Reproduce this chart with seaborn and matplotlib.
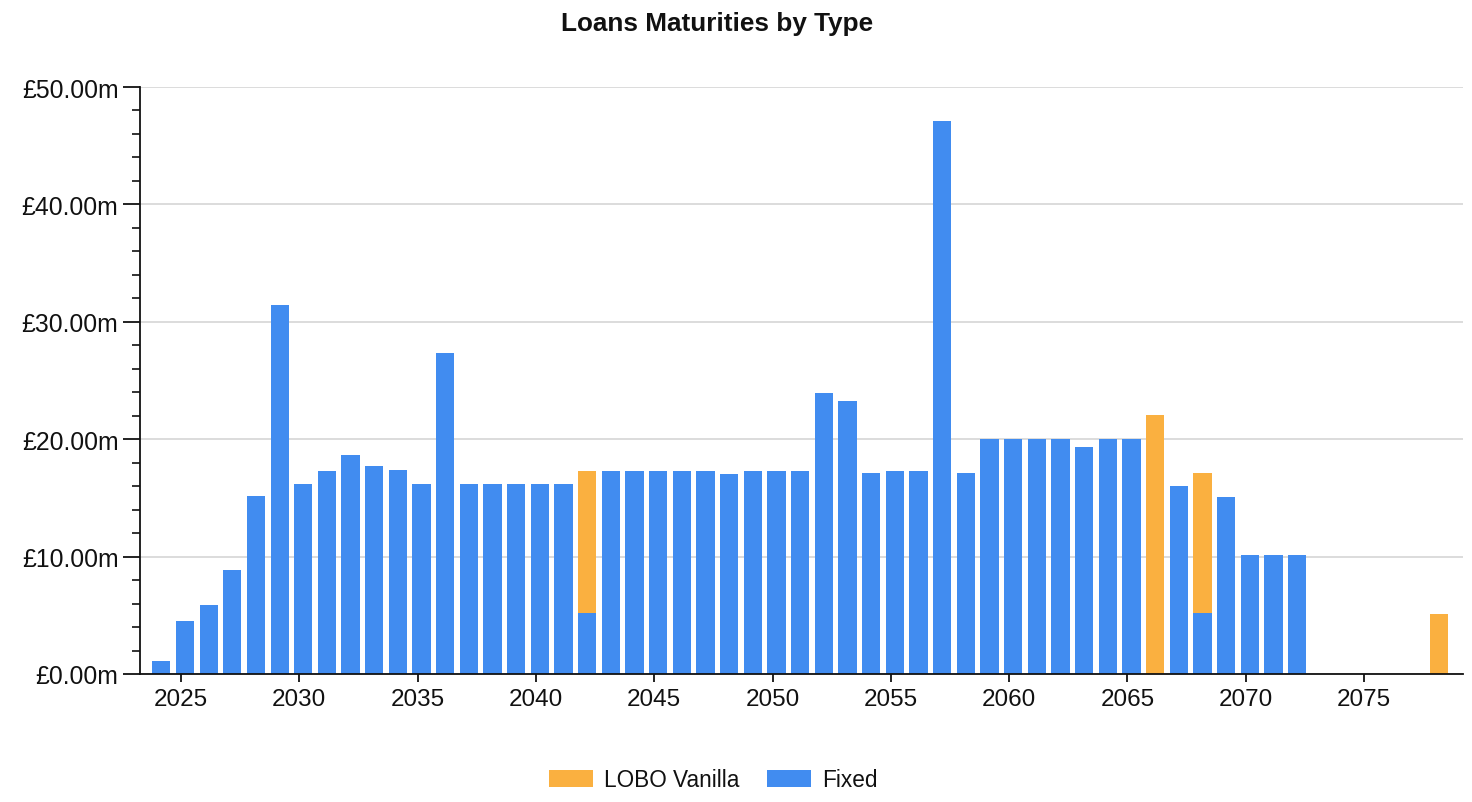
import numpy as np
import pandas as pd
import matplotlib
matplotlib.use("Agg")
import matplotlib.pyplot as plt
import seaborn as sns
from matplotlib.ticker import MultipleLocator, FuncFormatter
from matplotlib.patches import Patch

# ---- data (values in £m) ----
years = list(range(2024, 2073)) + [2078]
fixed = [1.1, 4.5, 5.85, 8.9, 15.2, 31.4, 16.2, 17.25, 18.65, 17.75,   # 2024-2033
         17.4, 16.2, 27.3, 16.2, 16.2, 16.2, 16.2, 16.2, 5.2, 17.25,    # 2034-2043
         17.25, 17.25, 17.25, 17.25, 17.05, 17.25, 17.25, 17.25, 23.9, 23.25,  # 2044-2053
         17.1, 17.25, 17.25, 47.1, 17.1, 20.0, 20.0, 20.0, 20.0, 19.35,  # 2054-2063
         20.0, 20.0, 0.0, 16.05, 5.2, 15.05, 10.1, 10.1, 10.1,          # 2064-2072
         0.0]                                                            # 2078
lobo_vanilla = [0.0] * 18 + [12.05] + [0.0] * 23 + [22.05, 0.0, 11.9] + [0.0] * 4 + [5.15]
series_names = ["LOBO Vanilla", "Fixed"]
tick_years = list(range(2025, 2076, 5))

# ---- style ----
C_LOBO = "#FAB040"
C_FIXED = "#418CF0"

sns.set_style("white")
plt.rcParams["font.family"] = ["Liberation Sans", "DejaVu Sans"]

df = pd.DataFrame({"year": years, "Fixed": fixed, "LOBO Vanilla": lobo_vanilla})
df["total"] = df["Fixed"] + df["LOBO Vanilla"]
df["pos"] = df["year"] + 0.17  # maturity falls partway into the year

fig = plt.figure(figsize=(14.72, 8.03), dpi=100)
ax = fig.add_axes([140 / 1472, 1 - 675 / 803, (1463 - 140) / 1472, (675 - 88) / 803])

sns.barplot(data=df, x="pos", y="total", native_scale=True, color=C_LOBO,
            width=0.77, errorbar=None, linewidth=0, saturation=1, ax=ax)
sns.barplot(data=df, x="pos", y="Fixed", native_scale=True, color=C_FIXED,
            width=0.77, errorbar=None, linewidth=0, saturation=1, ax=ax)

ax.set_xlim(2023.27, 2079.18)
ax.set_ylim(0, 50)
ax.set_xticks(tick_years)
ax.set_xticklabels([str(y) for y in tick_years])
ax.yaxis.set_major_locator(MultipleLocator(10))
ax.yaxis.set_minor_locator(MultipleLocator(2))
ax.yaxis.set_major_formatter(FuncFormatter(lambda v, p: f"£{v:.2f}m"))
ax.set_xlabel("")
ax.set_ylabel("")

ax.set_axisbelow(True)
ax.yaxis.grid(True, color="#D9D9D9", linewidth=1.3)
ax.xaxis.grid(False)

for s in ["top", "right"]:
    ax.spines[s].set_visible(False)
for s in ["left", "bottom"]:
    ax.spines[s].set_color("#111111")
    ax.spines[s].set_linewidth(1.3)

ax.tick_params(axis="y", which="major", direction="out", length=12, width=1.3,
               color="#111111", labelsize=17.8, labelcolor="#111111", pad=3.5, left=True)
ax.tick_params(axis="y", which="minor", direction="out", length=6, width=1.2,
               color="#111111", left=True)
ax.tick_params(axis="x", which="major", direction="out", length=6, width=1.3,
               color="#111111", labelsize=17.5, labelcolor="#111111", pad=4, bottom=True)

fig.text(717 / 1472, 1 - 24 / 803, "Loans Maturities by Type", ha="center", va="center",
         fontsize=18.8, fontweight="bold", color="#111111")

handles = [Patch(facecolor=C_LOBO, edgecolor="none"), Patch(facecolor=C_FIXED, edgecolor="none")]
fig.legend(handles, series_names, loc="center", bbox_to_anchor=(713 / 1472, 1 - 781 / 803),
           ncol=2, frameon=False, fontsize=16.3, handlelength=1.95, handleheight=0.8,
           handletextpad=0.5, columnspacing=1.2, labelcolor="#111111")

fig.savefig("out.png", dpi=100)
